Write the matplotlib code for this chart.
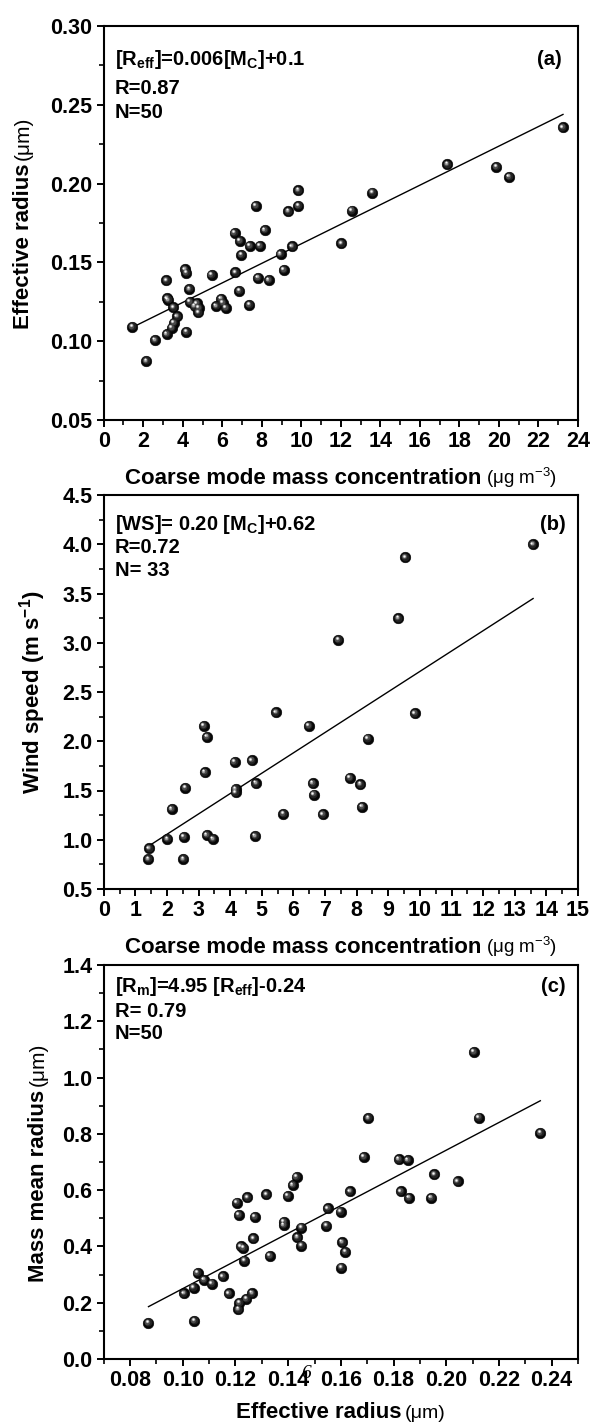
import numpy as np
import matplotlib
matplotlib.use("Agg")
import matplotlib.pyplot as plt
import matplotlib.transforms as mtransforms
from matplotlib.ticker import MultipleLocator, FormatStrFormatter

plt.rcParams['font.family'] = ['Liberation Sans', 'DejaVu Sans']
plt.rcParams['font.weight'] = 'bold'
plt.rcParams['mathtext.default'] = 'regular'

# ---------------- data ----------------
# (a) effective radius vs coarse mode mass concentration
a_x = [23.24, 17.39, 19.87, 20.52, 9.85, 13.59, 7.69, 9.85, 9.35, 12.56,
       6.62, 8.15, 6.89, 7.40, 7.90, 6.97, 9.54, 8.95, 12.02, 9.12,
       8.36, 7.81, 6.66, 5.46, 4.12, 4.18, 3.17, 4.33, 6.87, 3.21,
       3.26, 4.35, 4.71, 4.81, 4.79, 3.53, 3.72, 3.55, 3.44, 3.19,
       4.18, 2.60, 2.16, 1.45, 5.94, 6.03, 5.69, 6.18, 7.37, 4.60]
a_y = [0.2357, 0.2123, 0.2106, 0.2044, 0.1958, 0.1943, 0.1858, 0.1858, 0.1825, 0.1829,
       0.1688, 0.1705, 0.1637, 0.1606, 0.1604, 0.1549, 0.1601, 0.1553, 0.1621, 0.1453,
       0.1388, 0.1403, 0.1437, 0.1422, 0.1456, 0.1434, 0.1386, 0.1331, 0.1320, 0.1272,
       0.1261, 0.1250, 0.1240, 0.1212, 0.1183, 0.1215, 0.1157, 0.1117, 0.1086, 0.1045,
       0.1060, 0.1007, 0.0874, 0.1090, 0.1270, 0.1244, 0.1223, 0.1212, 0.1231, 0.1222]
a_fit = [0.0062, 0.0998]   # slope, intercept

# (b) wind speed vs coarse mode mass concentration
b_x = [13.58, 9.54, 9.32, 7.42, 5.45, 9.84, 3.16, 6.49, 3.27, 8.35,
       4.14, 4.69, 3.20, 2.58, 4.82, 4.17, 4.17, 6.61, 6.64, 7.79,
       8.12, 8.17, 5.68, 6.93, 2.15, 2.01, 2.54, 3.26, 3.46, 4.79,
       1.44, 1.41, 2.52]
b_y = [4.00, 3.867, 3.25, 3.03, 2.294, 2.284, 2.155, 2.155, 2.047, 2.027,
       1.79, 1.807, 1.686, 1.527, 1.574, 1.514, 1.48, 1.574, 1.459, 1.628,
       1.564, 1.334, 1.264, 1.257, 1.311, 1.007, 1.03, 1.047, 1.007, 1.037,
       0.912, 0.804, 0.804]
b_fit = [0.2067, 0.642]

# (c) mass mean radius vs effective radius
c_x = [0.2104, 0.1704, 0.2124, 0.2357, 0.1687, 0.1820, 0.1854,
       0.1955, 0.2043, 0.1432, 0.1417, 0.1399, 0.1317, 0.1245, 0.1205, 0.1213, 0.1273,
       0.1635, 0.1827, 0.1859, 0.1943, 0.1551, 0.1599, 0.1383, 0.1383, 0.1450, 0.1545,
       0.1268, 0.1435, 0.1450, 0.1605, 0.1617, 0.1221, 0.1230, 0.1234, 0.1330, 0.1602,
       0.1056, 0.1152, 0.1081, 0.1111, 0.1041, 0.1005, 0.1175, 0.1263, 0.1241, 0.1215,
       0.1211, 0.1044, 0.0870]
c_y = [1.091, 0.856, 0.858, 0.804, 0.719, 0.710, 0.707,
       0.656, 0.631, 0.647, 0.618, 0.580, 0.585, 0.574, 0.556, 0.513, 0.505,
       0.596, 0.596, 0.572, 0.572, 0.535, 0.524, 0.487, 0.476, 0.467, 0.474,
       0.429, 0.433, 0.403, 0.415, 0.381, 0.400, 0.395, 0.350, 0.366, 0.325,
       0.306, 0.294, 0.281, 0.268, 0.254, 0.233, 0.233, 0.234, 0.214, 0.199,
       0.177, 0.136, 0.128]
c_fit = [4.92, -0.242]

# annotations
a_notes = [r"[R$_{eff}$]=0.006[M$_{C}$]+0.1", "R=0.87", "N=50"]
b_notes = [r"[WS]= 0.20 [M$_{C}$]+0.62", "R=0.72", "N= 33"]
c_notes = [r"[R$_{m}$]=4.95 [R$_{eff}$]-0.24", "R= 0.79", "N=50"]

W, H = 593, 1423
fig = plt.figure(figsize=(W / 100, H / 100), dpi=100)

left = 103.7 / W
width = 474.3 / W
height = 394 / H


def make_ax(bottom_px):
    return fig.add_axes([left, 1 - bottom_px / H, width, height])


def spheres(ax, x, y):
    ax.scatter(x, y, s=58, c='#060606', edgecolors='#000000', linewidths=0.4, zorder=3)
    layers = [(32, '#222222', -0.45, 0.45), (16, '#4a4a4a', -0.8, 0.8),
              (6, '#9a9a9a', -1.1, 1.1), (2.0, '#f8f8f8', -1.25, 1.25)]
    for s, col, dx, dy in layers:
        tr = mtransforms.offset_copy(ax.transData, fig=fig, x=dx, y=dy, units='points')
        ax.scatter(x, y, s=s, c=col, linewidths=0, transform=tr, zorder=4)


def fit_line(ax, x, fit):
    xs = np.array([min(x), max(x)])
    ax.plot(xs, fit[0] * xs + fit[1], color='black', lw=1.0, zorder=2)


def style(ax):
    for sp in ax.spines.values():
        sp.set_linewidth(1.5)
    ax.tick_params(which='major', direction='out', length=5, width=1.4,
                   labelsize=15.5, pad=3.0, top=False, right=False)
    ax.tick_params(which='minor', direction='out', length=3.3, width=1.2,
                   top=False, right=False)


def notes(ax, lines, ys, tag, tag_x):
    for s, yy in zip(lines, ys):
        ax.text(0.0236, yy, s, transform=ax.transAxes, fontsize=14.5,
                fontweight='bold', ha='left', va='baseline')
    ax.text(tag_x, ys[0], tag, transform=ax.transAxes, fontsize=14.5,
            fontweight='bold', ha='right', va='baseline')


renderer = fig.canvas.get_renderer()


def label_parts(parts, cx, cy, rot):
    texts = []
    for s, size, weight in parts:
        t = fig.text(0, 0, s, fontsize=size, fontweight=weight, transform=None,
                     ha='left', va='baseline', rotation=rot, rotation_mode='anchor')
        texts.append(t)
    ext = [t.get_window_extent(renderer) for t in texts]
    lens = [e.width if rot == 0 else e.height for e in ext]
    gap = 4
    total = sum(lens) + gap * (len(parts) - 1)
    pos = (cx if rot == 0 else cy) - total / 2
    for t, l in zip(texts, lens):
        if rot == 0:
            t.set_position((pos, cy))
        else:
            t.set_position((cx, pos))
        pos += l + gap


# ---------------- (a) ----------------
axa = make_ax(420)
fit_line(axa, a_x, a_fit)
spheres(axa, a_x, a_y)
axa.set_xlim(0, 24)
axa.set_ylim(0.05, 0.30)
axa.xaxis.set_major_locator(MultipleLocator(2))
axa.xaxis.set_minor_locator(MultipleLocator(1))
axa.yaxis.set_major_locator(MultipleLocator(0.05))
axa.yaxis.set_minor_locator(MultipleLocator(0.025))
axa.yaxis.set_major_formatter(FormatStrFormatter('%.2f'))
style(axa)
notes(axa, a_notes, [0.901, 0.827, 0.766], "(a)", 0.9656)

# ---------------- (b) ----------------
axb = make_ax(889)
fit_line(axb, b_x, b_fit)
spheres(axb, b_x, b_y)
axb.set_xlim(0, 15)
axb.set_ylim(0.5, 4.5)
axb.xaxis.set_major_locator(MultipleLocator(1))
axb.xaxis.set_minor_locator(MultipleLocator(0.5))
axb.yaxis.set_major_locator(MultipleLocator(0.5))
axb.yaxis.set_minor_locator(MultipleLocator(0.25))
axb.yaxis.set_major_formatter(FormatStrFormatter('%.1f'))
style(axb)
notes(axb, b_notes, [0.911, 0.854, 0.794], "(b)", 0.9736)

# ---------------- (c) ----------------
axc = make_ax(1359)
fit_line(axc, c_x, c_fit)
spheres(axc, c_x, c_y)
axc.set_xlim(0.07, 0.25)
axc.set_ylim(0.0, 1.4)
axc.xaxis.set_major_locator(MultipleLocator(0.02))
axc.xaxis.set_minor_locator(MultipleLocator(0.01))
axc.xaxis.set_major_formatter(FormatStrFormatter('%.2f'))
axc.yaxis.set_major_locator(MultipleLocator(0.2))
axc.yaxis.set_minor_locator(MultipleLocator(0.1))
axc.yaxis.set_major_formatter(FormatStrFormatter('%.1f'))
style(axc)
notes(axc, c_notes, [0.932, 0.869, 0.811], "(c)", 0.9736)

# ---------------- axis labels ----------------
cxp = 103.7 + 474.3 / 2
label_parts([("Coarse mode mass concentration", 16, 'bold'),
             ("(μg m$^{-3}$)", 13.5, 'normal')], cxp, H - 484, 0)
label_parts([("Coarse mode mass concentration", 16, 'bold'),
             ("(μg m$^{-3}$)", 13.5, 'normal')], cxp, H - 953, 0)
label_parts([("Effective radius", 16, 'bold'), ("(μm)", 14, 'normal')],
            cxp, H - 1418, 0)

label_parts([("Effective radius", 16, 'bold'), ("(μm)", 15, 'normal')],
            29, H - 223, 90)
label_parts([("Wind speed (m s$^{-1}$)", 16, 'bold')], 40, H - 692, 90)
label_parts([("Mass mean radius", 16, 'bold'), ("(μm)", 15, 'normal')],
            44, H - 1162, 90)

# stray page mark in the reference
fig.text(306, H - 1378, "6", transform=None, fontsize=14, family='Liberation Serif',
         style='italic', fontweight='normal', ha='center', va='baseline')

fig.savefig("out.png", dpi=100)
